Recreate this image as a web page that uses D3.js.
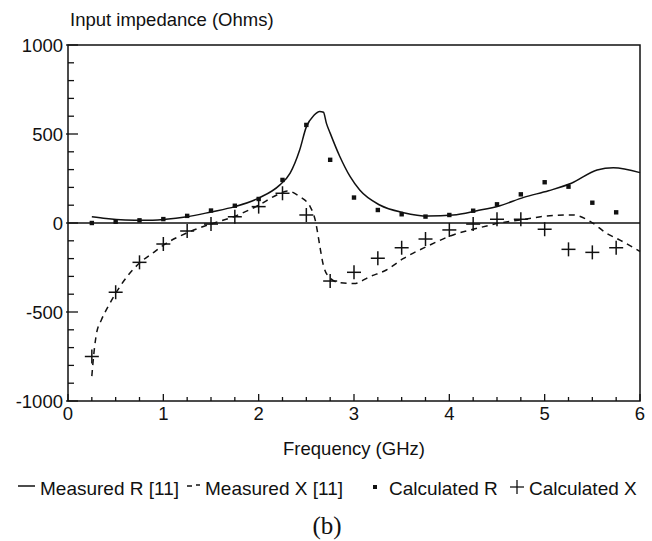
<!DOCTYPE html>
<html>
<head>
<meta charset="utf-8">
<script src="https://cdn.jsdelivr.net/npm/d3@7"></script>
<style>
  body { margin: 0; background: #fff; }
  text { font-family: "Liberation Sans", Arial, sans-serif; fill: #111; }
</style>
</head>
<body>
<div id="chart"></div>
<script>
// Dados
const calcFreq = [0.25, 0.5, 0.75, 1.0, 1.25, 1.5, 1.75, 2.0, 2.25, 2.5, 2.75, 3.0,
                  3.25, 3.5, 3.75, 4.0, 4.25, 4.5, 4.75, 5.0, 5.25, 5.5, 5.75];
const calcR = [0, 7, 15, 22, 40, 70, 97, 135, 242, 551, 355, 143,
               73, 49, 36, 45, 69, 105, 161, 229, 204, 114, 60];
const calcX = [-750, -389, -221, -118, -45, -6, 35, 92, 167, 45, -326, -277,
               -198, -139, -90, -39, -6, 21, 21, -35, -148, -165, -139];

const measRFreq = [0.25, 0.4, 0.6, 0.8, 1.0, 1.25, 1.5, 1.75, 2.0, 2.22, 2.33, 2.43, 2.5, 2.58, 2.64,
                   2.68, 2.71, 2.75, 2.85, 2.96, 3.06, 3.27, 3.52, 3.78, 4.04, 4.29, 4.53, 4.78,
                   5.04, 5.28, 5.55, 5.72, 6.0];
const measR = [35, 25, 17, 15, 20, 35, 62, 92, 140, 213, 280, 410, 540, 605, 627,
               622, 561, 505, 375, 260, 185, 101, 58, 39, 45, 69, 97, 144,
               181, 223, 298, 311, 283];

const measXFreq = [0.25, 0.27, 0.3, 0.35, 0.42, 0.5, 0.62, 0.75, 0.9, 1.0, 1.25, 1.5, 1.75, 2.0,
                   2.2, 2.3, 2.43, 2.54, 2.6, 2.62, 2.64, 2.68, 2.75, 2.85, 3.0, 3.17, 3.34,
                   3.52, 3.76, 4.04, 4.29, 4.53, 4.78, 5.02, 5.3, 5.48, 5.65, 5.79, 6.0];
const measX = [-860, -740, -618, -545, -470, -395, -301, -225, -165, -125, -55, -5, 38, 100,
               160, 180, 148, 92, 0, -60, -125, -240, -310, -335, -340, -300, -264,
               -199, -133, -67, -30, 0, 20, 39, 45, 8, -58, -96, -160];

const xTicks = [0, 1, 2, 3, 4, 5, 6];
const yTicks = [-1000, -500, 0, 500, 1000];

const W = 652, H = 541;
const x0 = 68, x1 = 640, yTop = 45, yBot = 401;

const svg = d3.select("#chart").append("svg")
    .attr("width", W)
    .attr("height", H);

// Escalas
const x = d3.scaleLinear().domain([0, 6]).range([x0, x1]);
const y = d3.scaleLinear().domain([-1000, 1000]).range([yBot, yTop]);

// Moldura
svg.append("rect")
    .attr("x", x0).attr("y", yTop)
    .attr("width", x1 - x0).attr("height", yBot - yTop)
    .attr("fill", "none").attr("stroke", "#111").attr("stroke-width", 1.5);

// Eixos (ticks para dentro)
const xMinor = d3.range(0, 6.001, 0.25);
svg.append("g").selectAll("line").data(xMinor).join("line")
    .attr("x1", d => x(d)).attr("x2", d => x(d))
    .attr("y1", yBot).attr("y2", d => Number.isInteger(d) ? yBot - 7 : yBot - 4)
    .attr("stroke", "#111").attr("stroke-width", 1.3);

const yMinor = d3.range(-1000, 1001, 100);
svg.append("g").selectAll("line").data(yMinor).join("line")
    .attr("y1", d => y(d)).attr("y2", d => y(d))
    .attr("x1", d => d % 500 === 0 ? x0 - 2 : x0)
    .attr("x2", d => d % 500 === 0 ? x0 + 10 : x0 + 6)
    .attr("stroke", "#111").attr("stroke-width", 1.3);

svg.append("g").selectAll("text").data(xTicks).join("text")
    .attr("x", d => x(d)).attr("y", 420)
    .attr("text-anchor", "middle")
    .style("font-size", "18.5px")
    .text(d => d);

svg.append("g").selectAll("text").data(yTicks).join("text")
    .attr("x", 63).attr("y", d => y(d))
    .attr("dy", "0.36em")
    .attr("text-anchor", "end")
    .style("font-size", "18.5px")
    .text(d => d);

// Linha do zero
svg.append("line")
    .attr("x1", x0).attr("x2", x1)
    .attr("y1", y(0)).attr("y2", y(0))
    .attr("stroke", "#111").attr("stroke-width", 1.5);

// Curvas medidas
const line = d3.line().curve(d3.curveMonotoneX);

svg.append("path")
    .attr("d", line(measRFreq.map((f, i) => [x(f), y(measR[i])])))
    .attr("fill", "none").attr("stroke", "#111").attr("stroke-width", 1.5);

svg.append("path")
    .attr("d", line(measXFreq.map((f, i) => [x(f), y(measX[i])])))
    .attr("fill", "none").attr("stroke", "#111").attr("stroke-width", 1.5)
    .attr("stroke-dasharray", "6,5");

// Pontos calculados
svg.append("g").selectAll("rect").data(calcFreq).join("rect")
    .attr("x", (d) => x(d) - 2.2)
    .attr("y", (d, i) => y(calcR[i]) - 2.2)
    .attr("width", 4.4).attr("height", 4.4)
    .attr("fill", "#111");

const plus = svg.append("g").attr("stroke", "#111").attr("stroke-width", 1.5);
plus.selectAll("line.h").data(calcFreq).join("line").attr("class", "h")
    .attr("x1", d => x(d) - 7).attr("x2", d => x(d) + 7)
    .attr("y1", (d, i) => y(calcX[i])).attr("y2", (d, i) => y(calcX[i]));
plus.selectAll("line.v").data(calcFreq).join("line").attr("class", "v")
    .attr("x1", d => x(d)).attr("x2", d => x(d))
    .attr("y1", (d, i) => y(calcX[i]) - 7).attr("y2", (d, i) => y(calcX[i]) + 7);

// Títulos
svg.append("text")
    .attr("x", 70).attr("y", 26)
    .style("font-size", "18.5px")
    .text("Input impedance (Ohms)");

svg.append("text")
    .attr("x", (x0 + x1) / 2).attr("y", 455)
    .attr("text-anchor", "middle")
    .style("font-size", "18.5px")
    .text("Frequency (GHz)");

// Legenda
const ly = 495;
const leg = svg.append("g").style("font-size", "19px");
leg.append("line").attr("x1", 18).attr("x2", 35).attr("y1", 486).attr("y2", 486)
    .attr("stroke", "#111").attr("stroke-width", 1.5);
leg.append("text").attr("x", 40).attr("y", ly).text("Measured R [11]");

leg.append("line").attr("x1", 187).attr("x2", 192).attr("y1", 486).attr("y2", 486)
    .attr("stroke", "#111").attr("stroke-width", 1.5);
leg.append("line").attr("x1", 196).attr("x2", 200).attr("y1", 485).attr("y2", 485)
    .attr("stroke", "#111").attr("stroke-width", 1.5);
leg.append("text").attr("x", 205).attr("y", ly).text("Measured X [11]");

leg.append("rect").attr("x", 373).attr("y", 485).attr("width", 4).attr("height", 4)
    .attr("fill", "#111");
leg.append("text").attr("x", 389).attr("y", ly).text("Calculated R");

leg.append("line").attr("x1", 510).attr("x2", 524).attr("y1", 487).attr("y2", 487)
    .attr("stroke", "#111").attr("stroke-width", 1.3);
leg.append("line").attr("x1", 517).attr("x2", 517).attr("y1", 480).attr("y2", 494)
    .attr("stroke", "#111").attr("stroke-width", 1.3);
leg.append("text").attr("x", 529).attr("y", ly).text("Calculated X");

svg.append("text")
    .attr("x", 327).attr("y", 534)
    .attr("text-anchor", "middle")
    .style("font-family", "'Liberation Serif', 'Times New Roman', serif")
    .style("font-size", "25px")
    .text("(b)");
</script>
</body>
</html>
